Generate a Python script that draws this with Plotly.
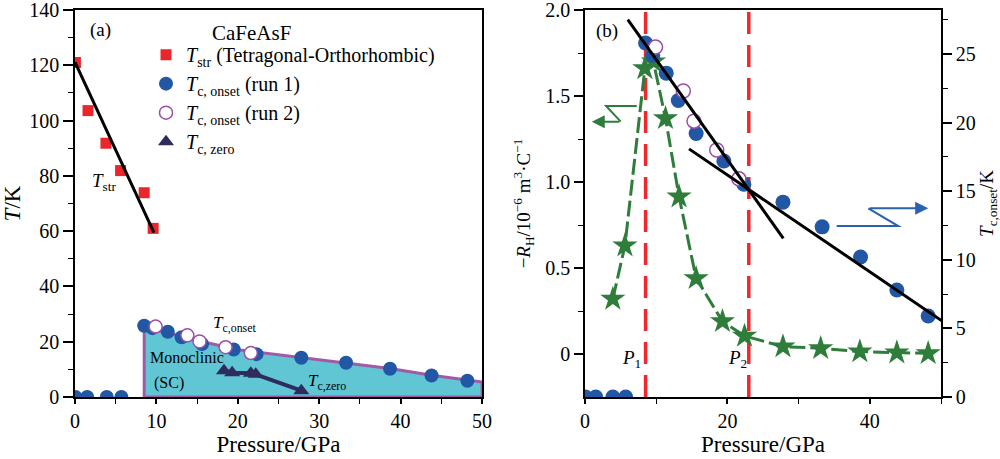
import plotly.graph_objects as go

# ---------------- data ----------------
# Left panel (a): phase diagram
tstr_p = [0.05, 1.6, 3.8, 5.6, 8.5, 9.6]
tstr_t = [121.0, 103.6, 91.8, 81.9, 73.9, 61.0]
tstr_fit_p = [0.0, 9.7]
tstr_fit_t = [121.1, 59.5]

run1_p = [0.05, 1.5, 3.9, 5.7, 8.5, 9.5, 11.4, 13.1, 15.6, 19.5, 22.3, 27.8, 33.3, 38.7, 43.8, 48.2]
run1_t = [0, 0, 0, 0, 25.8, 24.9, 23.6, 21.6, 19.2, 17.2, 15.5, 14.2, 12.4, 10.2, 7.8, 5.9]

run2_p = [9.9, 13.8, 15.3, 18.5, 21.6]
run2_t = [25.5, 22.3, 20.1, 18.0, 15.9]

tzero_p = [18.3, 19.3, 21.6, 22.2, 27.8]
tzero_t = [9.5, 8.8, 8.6, 8.2, 2.3]

sc_p = [8.5, 8.5, 9.5, 11.4, 13.1, 16.2, 20.3, 25.2, 27.8, 33.3, 38.7, 43.8, 48.2, 50.0, 50.0, 8.5]
sc_t = [0, 25.3, 24.6, 23.2, 21.8, 19.6, 17.0, 15.2, 14.3, 12.5, 10.3, 7.9, 6.0, 5.4, 0, 0]

left_t_ticks = [0, 20, 40, 60, 80, 100, 120, 140]

# Right panel (b): Hall coefficient
rh_p = [3.9, 5.6, 8.4, 9.6, 11.3, 13.2, 15.6, 19.3, 22.4, 27.8, 33.1, 38.6, 43.8, 48.2]
rh_v = [0.32, 0.63, 1.66, 1.70, 1.37, 0.915, 0.44, 0.19, 0.105, 0.043, 0.033, 0.014, 0.008, 0.004]
rh_ticks = [0, 0.5, 1.0, 1.5, 2.0]
rh_ticklabels = ["0", "0.5", "1.0", "1.5", "2.0"]

crit_p = [8.5, 23.0]   # P1, P2
fit1_p = [6.0, 27.85]
fit1_t = [27.5, 11.56]
fit2_p = [14.6, 50.5]
fit2_t = [18.08, 5.42]

# ---------------- styles ----------------
FONT = "Liberation Serif"
BLUE = "#2257a5"
PURPLE = "#9b4fa5"
RED = "#e8262b"
GREEN = "#2f7d3b"
NAVY = "#2e2b5f"
CYAN = "#60c6d4"
BORDER = "#a25aa8"
DRED = "#f0282d"
ABLUE = "#2a62b0"

fig = go.Figure()

# ---- left panel ----
fig.add_trace(go.Scatter(x=sc_p, y=sc_t, mode="lines", fill="toself", fillcolor=CYAN,
                         line=dict(color=BORDER, width=3), showlegend=False, xaxis="x", yaxis="y"))
fig.add_trace(go.Scatter(x=tstr_p, y=tstr_t, mode="markers",
                         marker=dict(symbol="square", size=11, color=RED),
                         name="<i>T</i><sub>str</sub> (Tetragonal-Orthorhombic)", legend="legend",
                         xaxis="x", yaxis="y"))
fig.add_trace(go.Scatter(x=tstr_fit_p, y=tstr_fit_t, mode="lines", line=dict(color="black", width=3),
                         showlegend=False, xaxis="x", yaxis="y"))
fig.add_trace(go.Scatter(x=run1_p, y=run1_t, mode="markers",
                         marker=dict(symbol="circle", size=14, color=BLUE),
                         name="<i>T</i><sub>c, onset</sub> (run 1)", legend="legend",
                         xaxis="x", yaxis="y"))
fig.add_trace(go.Scatter(x=run2_p, y=run2_t, mode="markers",
                         marker=dict(symbol="circle", size=13, color="white", line=dict(color=PURPLE, width=1.5)),
                         name="<i>T</i><sub>c, onset</sub> (run 2)", legend="legend",
                         xaxis="x", yaxis="y"))
fig.add_trace(go.Scatter(x=tzero_p, y=tzero_t, mode="lines", line=dict(color=NAVY, width=4),
                         showlegend=False, xaxis="x", yaxis="y"))
fig.add_trace(go.Scatter(x=tzero_p, y=tzero_t, mode="markers",
                         marker=dict(symbol="triangle-up", size=14, color=NAVY),
                         name="<i>T</i><sub>c, zero</sub>", legend="legend",
                         xaxis="x", yaxis="y"))

# ---- right panel ----
for p in crit_p:
    fig.add_trace(go.Scatter(x=[p, p], y=[-0.25, 2.0], mode="lines",
                             line=dict(color=DRED, width=3.5, dash="22px,11px"),
                             showlegend=False, xaxis="x2", yaxis="y2"))
fig.add_trace(go.Scatter(x=rh_p, y=rh_v, mode="lines+markers",
                         line=dict(color=GREEN, width=3, dash="16px,5px"),
                         marker=dict(symbol="star", size=19, color=GREEN),
                         showlegend=False, xaxis="x2", yaxis="y2"))
fig.add_trace(go.Scatter(x=run1_p, y=run1_t, mode="markers",
                         marker=dict(symbol="circle", size=15, color=BLUE),
                         showlegend=False, xaxis="x2", yaxis="y3"))
fig.add_trace(go.Scatter(x=run2_p, y=run2_t, mode="markers",
                         marker=dict(symbol="circle", size=14, color="white", line=dict(color=PURPLE, width=1.5)),
                         showlegend=False, xaxis="x2", yaxis="y3"))
fig.add_trace(go.Scatter(x=fit1_p, y=fit1_t, mode="lines", line=dict(color="black", width=3),
                         showlegend=False, xaxis="x2", yaxis="y3"))
fig.add_trace(go.Scatter(x=fit2_p, y=fit2_t, mode="lines", line=dict(color="black", width=3),
                         showlegend=False, xaxis="x2", yaxis="y3"))

TICKF = dict(family=FONT, size=20, color="black")
TITLEF = dict(family=FONT, size=23, color="black")

common = dict(showgrid=False, zeroline=False, showline=True, linecolor="black", linewidth=1.5,
              ticks="outside", tickwidth=1.5, tickcolor="black", tickfont=TICKF,
              automargin=False, ticklabeloverflow="allow")
xminor = dict(ticklen=5, tickwidth=1.2, ticks="outside", tickcolor="black")
yminor = dict(ticklen=5, tickwidth=1.2, ticks="outside", tickcolor="black")

fig.update_layout(
    width=1000, height=459,
    margin=dict(l=75, r=59, t=10, b=62),
    paper_bgcolor="white", plot_bgcolor="white",
    font=dict(family=FONT, color="black"),
    xaxis=dict(domain=[0, 0.47], range=[0, 50], dtick=10, mirror=True, ticklen=5,
               minor=dict(dtick=5, **xminor),
               title=dict(text="Pressure/GPa", font=TITLEF, standoff=1), anchor="y", **common),
    yaxis=dict(domain=[0, 1], range=[0, 140], tickvals=left_t_ticks, mirror=True, ticklen=10,
               minor=dict(dtick=10, **yminor),
               title=dict(text="<i>T</i>/K", font=TITLEF, standoff=6), anchor="x", **common),
    xaxis2=dict(domain=[0.589, 1], range=[0, 50], dtick=20, mirror=True, ticklen=5,
                minor=dict(dtick=10, **xminor),
                title=dict(text="Pressure/GPa", font=TITLEF, standoff=1), anchor="y2", **common),
    yaxis2=dict(domain=[0, 1], range=[-0.25, 2.0], tickvals=rh_ticks, ticktext=rh_ticklabels, ticklen=9,
                minor=dict(tickvals=[0.25, 0.75, 1.25, 1.75], **yminor),
                title=dict(text="−<i>R</i><sub>H</sub>/10<sup>−6</sup> m<sup>3</sup>·C<sup>−1</sup>",
                           font=dict(family=FONT, size=19, color="black"), standoff=10),
                anchor="x2", **common),
    yaxis3=dict(range=[0, 28.2], dtick=5, overlaying="y2", side="right", anchor="x2", ticklen=9,
                minor=dict(dtick=2.5, **yminor),
                title=dict(text="<i>T</i><sub>c,onset</sub>/K",
                           font=dict(family=FONT, size=19, color="black"), standoff=10),
                **common),
    legend=dict(x=0.082, y=0.935, xanchor="left", yanchor="top", bgcolor="rgba(0,0,0,0)",
                font=dict(family=FONT, size=20, color="black"), tracegroupgap=0,
                itemwidth=30),
)

ann = [
    dict(text="(a)", x=3.1, y=132.8, xref="x", yref="y", font=dict(size=19)),
    dict(text="CaFeAsF", x=21.7, y=131.7, xref="x", yref="y", font=dict(size=21)),
    dict(text="<i>T</i><sub>str</sub>", x=3.6, y=77.8, xref="x", yref="y", font=dict(size=19)),
    dict(text="<i>T</i><sub>c,onset</sub>", x=19.7, y=26.5, xref="x", yref="y", font=dict(size=17)),
    dict(text="Monoclinic", x=13.8, y=14.2, xref="x", yref="y", font=dict(size=16)),
    dict(text="(SC)", x=11.5, y=5.2, xref="x", yref="y", font=dict(size=16)),
    dict(text="<i>T</i><sub>c,zero</sub>", x=31.0, y=5.5, xref="x", yref="y", font=dict(size=17)),
    dict(text="(b)", x=3.1, y=1.88, xref="x2", yref="y2", font=dict(size=19)),
    dict(text="<i>P</i><sub>1</sub>", x=6.5, y=-0.03, xref="x2", yref="y2", font=dict(size=19)),
    dict(text="<i>P</i><sub>2</sub>", x=21.4, y=-0.03, xref="x2", yref="y2", font=dict(size=19)),
]
for a in ann:
    a.setdefault("showarrow", False)
    a["font"] = dict(family=FONT, color="black", **a["font"])
    fig.add_annotation(**a)

# zig-zag indicator arrows
fig.add_shape(type="path", path="M 7.26,1.442 L 2.95,1.442 L 5.01,1.351", xref="x2", yref="y2",
              line=dict(color=GREEN, width=2))
fig.add_annotation(x=0.94, y=1.351, ax=5.01, ay=1.351, xref="x2", yref="y2", axref="x2", ayref="y2",
                   text="", showarrow=True, arrowhead=2, arrowsize=1.3, arrowwidth=2, arrowcolor=GREEN)
fig.add_shape(type="path", path="M 35.35,0.744 L 44.0,0.744 L 39.79,0.847", xref="x2", yref="y2",
              line=dict(color=ABLUE, width=2))
fig.add_annotation(x=48.2, y=0.847, ax=39.79, ay=0.847, xref="x2", yref="y2", axref="x2", ayref="y2",
                   text="", showarrow=True, arrowhead=2, arrowsize=1.3, arrowwidth=2, arrowcolor=ABLUE)

fig.write_html("out.html")
